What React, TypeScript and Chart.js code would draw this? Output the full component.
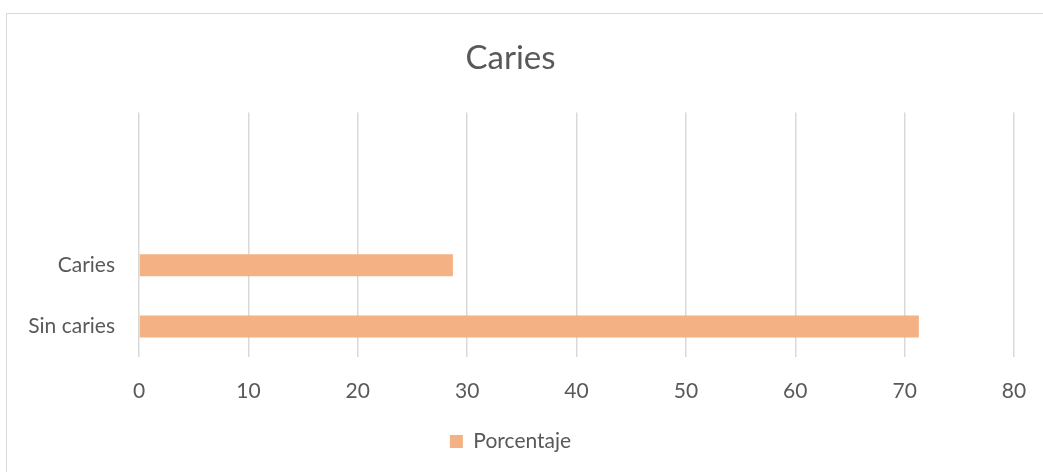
import React, { useEffect, useRef } from "react";
import { Chart, registerables } from "chart.js";

Chart.register(...registerables);

const categories: string[] = ["", "", "Caries", "Sin caries"];
const porcentaje: (number | null)[] = [null, null, 28.7, 71.3];
const xTicks: number[] = [0, 10, 20, 30, 40, 50, 60, 70, 80];
const seriesName = "Porcentaje";
const titleText = "Caries";

const FONT = "Lato, 'Noto Sans', sans-serif";
const TEXT = "#595959";
const GRID = "#d9d9d9";
const BAR = "#F4B183";

export default function App() {
  const ref = useRef<HTMLCanvasElement | null>(null);

  useEffect(() => {
    document.body.style.overflow = "hidden";
    const canvas = ref.current;
    if (!canvas) return;
    const chart = new Chart(canvas, {
      type: "bar",
      data: {
        labels: categories,
        datasets: [
          {
            label: seriesName,
            data: porcentaje,
            backgroundColor: BAR,
            borderWidth: 0,
            categoryPercentage: 1,
            barPercentage: 0.36,
          },
        ],
      },
      options: {
        indexAxis: "y",
        animation: false,
        responsive: false,
        maintainAspectRatio: false,
        layout: { padding: { left: 0, right: 43, top: 0, bottom: 10 } },
        plugins: {
          title: {
            display: true,
            text: titleText,
            color: TEXT,
            font: { family: FONT, size: 33, weight: "normal" },
            padding: { top: 25, bottom: 34 },
          },
          legend: {
            display: true,
            position: "bottom",
            labels: {
              color: TEXT,
              font: { family: FONT, size: 21 },
              boxWidth: 13,
              boxHeight: 13,
              padding: 10,
            },
          },
          tooltip: { enabled: false },
        },
        scales: {
          x: {
            min: xTicks[0],
            max: xTicks[xTicks.length - 1],
            afterBuildTicks: (axis: any) => {
              axis.ticks = xTicks.map((v) => ({ value: v }));
            },
            afterFit: (axis: any) => {
              axis.height = 64;
            },
            border: { display: false },
            grid: { color: GRID, lineWidth: 1.5, drawTicks: false },
            ticks: {
              color: TEXT,
              font: { family: FONT, size: 21 },
              padding: 22,
            },
          },
          y: {
            afterFit: (axis: any) => {
              axis.width = 132;
            },
            border: { display: false },
            grid: { display: false, drawTicks: false },
            ticks: {
              color: TEXT,
              font: { family: FONT, size: 21 },
              padding: 24,
            },
          },
        },
      },
    });
    return () => chart.destroy();
  }, []);

  return (
    <div
      style={{
        position: "fixed",
        left: 0,
        top: 0,
        width: 1043,
        height: 472,
        overflow: "hidden",
        background: "#fff",
      }}
    >
      <div
        style={{
          position: "absolute",
          left: 6,
          top: 13,
          width: 1050,
          height: 458,
          border: "1.5px solid #d9d9d9",
        }}
      >
        <canvas ref={ref} width={1050} height={458} style={{ display: "block" }} />
      </div>
    </div>
  );
}
